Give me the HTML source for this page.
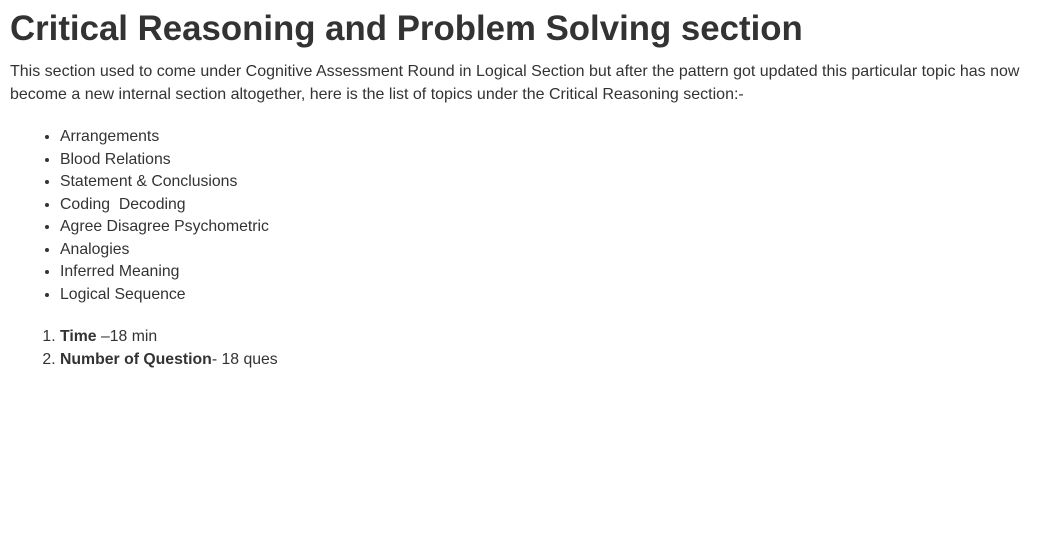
<!DOCTYPE html>
<html><head><style>
body{margin:0;background:#fff;color:#333;font-family:"Liberation Sans",sans-serif;}
.w{padding:0 10px;}
h1{font-size:34.8px;font-weight:bold;margin:8px 0 0 0;line-height:42px;color:#333;letter-spacing:0;}
p{font-size:16px;line-height:23px;margin:10px 0 0 0;}
ul,ol{margin:0;padding-left:50px;font-size:15.8px;line-height:22.5px;}
ul{margin-top:20px;}
ol{margin-top:20px;}
</style></head><body><div class="w">
<h1>Critical Reasoning and Problem Solving section</h1>
<p>This section used to come under Cognitive Assessment Round in Logical Section but after the pattern got updated this particular topic has now become a new internal section altogether, here is the list of topics under the Critical Reasoning section:-</p>
<ul>
<li>Arrangements</li><li>Blood Relations</li><li>Statement &amp; Conclusions</li><li>Coding&nbsp; Decoding</li><li>Agree Disagree Psychometric</li><li>Analogies</li><li>Inferred Meaning</li><li>Logical Sequence</li>
</ul>
<ol><li><b>Time</b> –18 min</li><li><b>Number of Question</b>- 18 ques</li></ol>
</div></body></html>
